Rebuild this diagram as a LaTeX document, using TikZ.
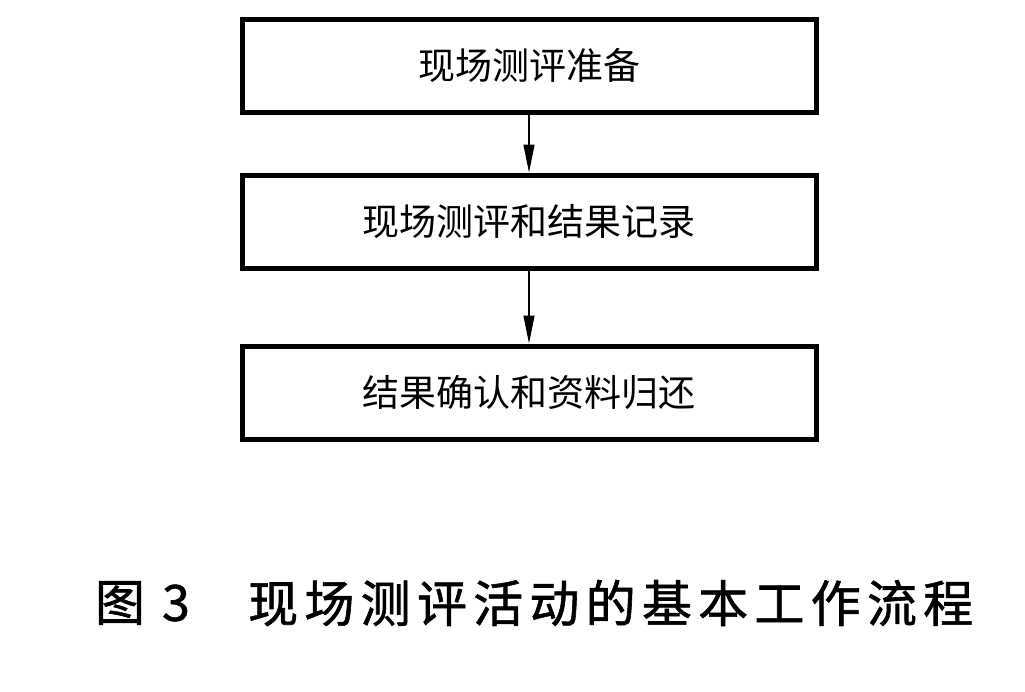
\documentclass[tikz,border=0pt]{standalone}
\usepackage{fontspec}
\newfontfamily\cjk{Noto Sans CJK SC}
\newfontfamily\cjkcap[FakeBold=1.2]{Noto Sans CJK SC}
\usetikzlibrary{arrows.meta}
\tikzset{
  stepbox/.style={draw=black, line width=5pt, minimum width=574pt, minimum height=93pt, inner sep=0pt, font=\cjk\fontsize{37}{40}\selectfont},
  flow/.style={line width=1.3pt, -{Triangle[length=28pt,width=11pt]}},
  captext/.style={font=\cjkcap\fontsize{50}{56}\selectfont, inner sep=0pt}
}
\begin{document}
\begin{tikzpicture}[x=1pt,y=-1pt]
\useasboundingbox[fill=white] (0,0) rectangle (1025,691);
\node[stepbox] (a) at (529,65.5) {现场测评准备};
\node[stepbox] (b) at (529,221.5) {现场测评和结果记录};
\node[stepbox] (c) at (529,392.5) {结果确认和资料归还};
\draw[flow] (a.south) -- (b.north);
\draw[flow] (b.south) -- (c.north);
\node[captext] (f) at (120,603) {图};
\node[captext] (n) at (176,603) {3};
\node[captext, anchor=west] (t) at (248,603) {\addfontfeature{LetterSpace=12.5}现场测评活动的基本工作流程};
\end{tikzpicture}
\end{document}
